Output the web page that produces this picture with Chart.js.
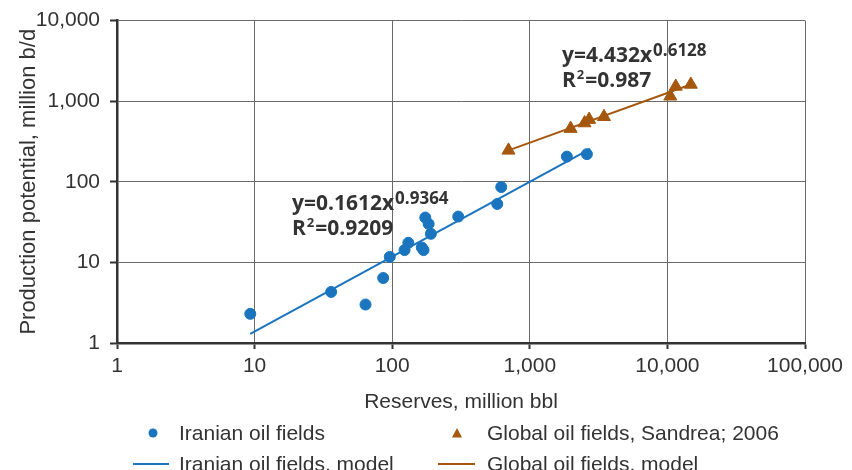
<!DOCTYPE html>
<html>
<head>
<meta charset="utf-8">
<script src="https://cdn.jsdelivr.net/npm/chart.js@4.4.0/dist/chart.umd.min.js"></script>
<style>
body { margin: 0; background: #fff; }
</style>
</head>
<body>
<canvas id="myChart" width="852" height="470"></canvas>
<script>
// Iranian oil fields: reserves (million bbl) vs production potential
var iranReserves = [9.3, 36, 64, 86, 96, 123, 131, 164, 169, 174, 184, 191, 302, 580, 620, 1860, 2600];
var iranProduction = [2.3, 4.3, 3.0, 6.4, 11.7, 14.2, 17.5, 15.3, 14.2, 36, 30, 22.6, 37, 53, 86, 205, 220];

// Global oil fields, Sandrea 2006
var globalReserves = [700, 1980, 2500, 2700, 3460, 10500, 11500, 14800];
var globalProduction = [245, 456, 535, 590, 640, 1150, 1520, 1610];

// model lines (end points)
var iranModelX = [9.3, 2750];
var iranModelY = [1.3, 255];
var globalModelX = [700, 14800];
var globalModelY = [245, 1610];

var seriesLabels = ["Iranian oil fields", "Global oil fields, Sandrea; 2006", "Iranian oil fields, model", "Global oil fields, model"];

var xTicks = [1, 10, 100, 1000, 10000, 100000];
var yTicks = [1, 10, 100, 1000, 10000];

var blue = "#1a75be";
var brown = "#a5570e";
var textColor = "#333";

function toPoints(xs, ys) {
    var pts = [];
    for (var i = 0; i < xs.length; i++) {
        pts.push({x: xs[i], y: ys[i]});
    }
    return pts;
}

function fmt(v) {
    return Number(v).toLocaleString("en-US");
}

Chart.defaults.font.family = "'Liberation Sans', Arial, sans-serif";
Chart.defaults.font.size = 21;
Chart.defaults.color = textColor;

// equations and legend drawn by hand
var extras = {
    id: "extras",
    afterDraw: function(chart) {
        var ctx = chart.ctx;
        ctx.save();
        ctx.fillStyle = textColor;
        ctx.textBaseline = "alphabetic";
        ctx.textAlign = "left";

        function equation(x, y, coef, expo, r2) {
            var big = "bold 21px 'Open Sans', 'Liberation Sans', sans-serif";
            var sup = "bold 17px 'Open Sans', 'Liberation Sans', sans-serif";
            var sup2 = "bold 13px 'Open Sans', 'Liberation Sans', sans-serif";
            ctx.font = big;
            var t1 = "y=" + coef + "x";
            ctx.fillText(t1, x, y);
            var w = ctx.measureText(t1).width;
            ctx.font = sup;
            ctx.fillText(expo, x + w + 1, y - 6);
            ctx.font = big;
            ctx.fillText("R", x, y + 25);
            var wr = ctx.measureText("R").width;
            ctx.font = sup2;
            ctx.fillText("2", x + wr + 1, y + 17);
            var w2 = ctx.measureText("2").width;
            ctx.font = big;
            ctx.fillText("=" + r2, x + wr + w2 + 2, y + 25);
        }
        equation(292, 210, "0.1612", "0.9364", "0.9209");
        equation(562, 62, "4.432", "0.6128", "0.987");

        // legend, two columns
        var ds = chart.data.datasets;
        ctx.font = "21px 'Liberation Sans', Arial, sans-serif";
        ctx.textBaseline = "middle";
        ctx.fillStyle = textColor;
        ctx.fillText(ds[0].label, 179, 434);
        ctx.fillText(ds[1].label, 487, 434);
        ctx.fillText(ds[2].label, 179, 465);
        ctx.fillText(ds[3].label, 487, 465);

        ctx.fillStyle = blue;
        ctx.beginPath();
        ctx.arc(153, 433, 4.5, 0, Math.PI * 2);
        ctx.fill();

        ctx.fillStyle = brown;
        ctx.beginPath();
        ctx.moveTo(457, 428);
        ctx.lineTo(462, 437.5);
        ctx.lineTo(452, 437.5);
        ctx.closePath();
        ctx.fill();

        ctx.lineWidth = 2;
        ctx.strokeStyle = blue;
        ctx.beginPath();
        ctx.moveTo(133, 464);
        ctx.lineTo(169, 464);
        ctx.stroke();
        ctx.strokeStyle = brown;
        ctx.beginPath();
        ctx.moveTo(438, 464);
        ctx.lineTo(475, 464);
        ctx.stroke();
        ctx.restore();
    }
};

var ctx = document.getElementById("myChart").getContext("2d");
var myChart = new Chart(ctx, {
    type: "scatter",
    data: {
        datasets: [{
            label: seriesLabels[0],
            data: toPoints(iranReserves, iranProduction),
            backgroundColor: blue,
            borderColor: blue,
            pointRadius: 5.5,
            order: 1
        }, {
            label: seriesLabels[1],
            data: toPoints(globalReserves, globalProduction),
            backgroundColor: brown,
            borderColor: brown,
            pointStyle: "triangle",
            pointRadius: 7.5,
            order: 1
        }, {
            label: seriesLabels[2],
            data: toPoints(iranModelX, iranModelY),
            showLine: true,
            borderColor: blue,
            borderWidth: 2,
            pointRadius: 0,
            order: 2
        }, {
            label: seriesLabels[3],
            data: toPoints(globalModelX, globalModelY),
            showLine: true,
            borderColor: brown,
            borderWidth: 2,
            pointRadius: 0,
            order: 2
        }]
    },
    options: {
        responsive: false,
        animation: false,
        layout: {
            padding: {left: 0, top: 20, right: 47, bottom: 55}
        },
        plugins: {
            legend: {display: false},
            tooltip: {enabled: false}
        },
        scales: {
            x: {
                type: "logarithmic",
                min: 1,
                max: 100000,
                afterBuildTicks: function(scale) {
                    scale.ticks = xTicks.map(function(v) { return {value: v}; });
                },
                afterFit: function(scale) { scale.height = 72; },
                ticks: {
                    padding: 5,
                    maxRotation: 0,
                    autoSkip: false,
                    callback: function(v) { return fmt(v); }
                },
                grid: {color: "#6a6a6a", lineWidth: 1, tickLength: 6, tickColor: "#333", tickWidth: 2},
                border: {color: "#333", width: 2.5},
                title: {
                    display: true,
                    text: "Reserves, million bbl",
                    font: {size: 21},
                    padding: {top: 0, bottom: 0}
                }
            },
            y: {
                type: "logarithmic",
                min: 1,
                max: 10000,
                afterBuildTicks: function(scale) {
                    scale.ticks = yTicks.map(function(v) { return {value: v}; });
                },
                afterFit: function(scale) { scale.width = 117; },
                ticks: {
                    padding: 10,
                    autoSkip: false,
                    font: {size: 21, lineHeight: 1},
                    callback: function(v) { return fmt(v); }
                },
                grid: {color: "#6a6a6a", lineWidth: 1, tickLength: 7, tickColor: "#333", tickWidth: 2},
                border: {color: "#333", width: 2.5},
                title: {
                    display: true,
                    text: "Production potential, million b/d",
                    font: {size: 22},
                    padding: {top: 16, bottom: 0}
                }
            }
        }
    },
    plugins: [extras]
});
</script>
</body>
</html>
